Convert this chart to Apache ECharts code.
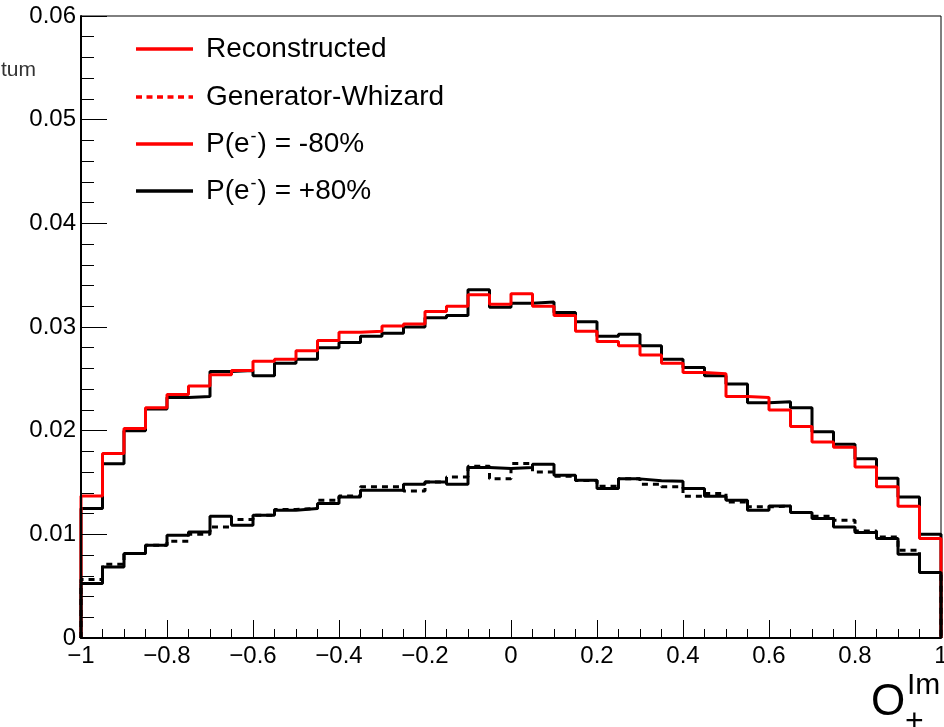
<!DOCTYPE html>
<html>
<head>
<meta charset="utf-8">
<script src="https://cdn.jsdelivr.net/npm/echarts@6/dist/echarts.min.js"></script>
<style>
  html, body { margin: 0; padding: 0; background: #fff; }
  #chart { width: 944px; height: 727px; }
</style>
</head>
<body>
<div id="chart"></div>
<script>
// Histogram binning: 40 bins of width 0.05 on [-1, 1]
const binLow = -1;
const binWidth = 0.05;

// P(e-) = -80%, reconstructed (red) and its companion (black)
const upperRed = [
  0.0137, 0.0178, 0.0202, 0.0222, 0.0235, 0.0243, 0.0254, 0.0258, 0.0267, 0.0269,
  0.0277, 0.0287, 0.0295, 0.0296, 0.0301, 0.0303, 0.0315, 0.0320, 0.0331, 0.0322,
  0.0332, 0.0320, 0.0311, 0.0296, 0.0286, 0.0282, 0.0273, 0.0265, 0.0256, 0.0255,
  0.0233, 0.0232, 0.0220, 0.0204, 0.0189, 0.0184, 0.0165, 0.0146, 0.0127, 0.0096
];
const upperBlack = [
  0.0125, 0.0168, 0.0200, 0.0221, 0.0232, 0.0233, 0.0257, 0.0258, 0.0253, 0.0265,
  0.0269, 0.0280, 0.0285, 0.0291, 0.0294, 0.0300, 0.0309, 0.0311, 0.0336, 0.0319,
  0.0323, 0.0324, 0.0314, 0.0305, 0.0291, 0.0293, 0.0282, 0.0269, 0.0261, 0.0253,
  0.0245, 0.0227, 0.0228, 0.0222, 0.0199, 0.0187, 0.0173, 0.0154, 0.0136, 0.0100
];
// P(e-) = +80%, reconstructed (solid) and generator (dashed)
const lowerSolid = [
  0.00525, 0.00685, 0.00815, 0.00895, 0.00991, 0.01023, 0.01175, 0.01088, 0.01184, 0.01233,
  0.01249, 0.01297, 0.01361, 0.01426, 0.01426, 0.01484, 0.01506, 0.01484, 0.01645, 0.01635,
  0.01645, 0.01677, 0.01570, 0.01522, 0.01442, 0.01535, 0.01516, 0.01513, 0.01442, 0.01368,
  0.01329, 0.01233, 0.01274, 0.01210, 0.01152, 0.01071, 0.01017, 0.00959, 0.00808, 0.00631
];
const lowerDashed = [
  0.00564, 0.00711, 0.00815, 0.00895, 0.00933, 0.01001, 0.01071, 0.01143, 0.01184, 0.01239,
  0.01250, 0.01329, 0.01370, 0.01458, 0.01458, 0.01419, 0.01506, 0.01554, 0.01657, 0.01535,
  0.01683, 0.01602, 0.01561, 0.01520, 0.01464, 0.01535, 0.01484, 0.01458, 0.01368, 0.01394,
  0.01313, 0.01265, 0.01274, 0.01210, 0.01175, 0.01136, 0.01033, 0.00975, 0.00847, 0.00631
];

const legendLabels = ['Reconstructed', 'Generator-Whizard', 'P(e-) = -80%', 'P(e-) = +80%'];

const FONT = '"Liberation Sans", Arial, Helvetica, sans-serif';

// Turn bin contents into an outline (step) path, closed down to zero at both ends
function histPoints(vals) {
  const pts = [[binLow, 0]];
  vals.forEach((v, i) => pts.push([binLow + i * binWidth, v]));
  const hi = binLow + vals.length * binWidth;
  pts.push([hi, vals[vals.length - 1]]);
  pts.push([hi, 0]);
  return pts;
}

function histSeries(name, vals, color, dashed) {
  return {
    name: name,
    type: 'line',
    step: 'end',
    data: histPoints(vals),
    showSymbol: false,
    symbol: 'none',
    clip: false,
    silent: true,
    lineStyle: { color: color, width: 3, type: dashed ? [6, 5] : 'solid' }
  };
}

function fmtX(v) {
  const r = Math.round(v * 10) / 10;
  if (r === 0) return '0';
  return r < 0 ? '\u2212' + String(-r) : String(r);
}

const chart = echarts.init(document.getElementById('chart'), null, { renderer: 'canvas' });

const legendRows = [49, 97, 144, 191];
const legendStyles = [
  { color: '#ff0000', dash: null },
  { color: '#ff0000', dash: [6, 4.5] },
  { color: '#ff0000', dash: null },
  { color: '#000000', dash: null }
];

function legendText(label) {
  const m = label.match(/^P\(e-\)(.*)$/);
  if (m) return '{a|P(e}{s|-}{a|)' + m[1] + '}';
  return '{a|' + label + '}';
}

const graphics = [];
legendLabels.forEach((label, i) => {
  const y = legendRows[i];
  graphics.push({
    type: 'line',
    silent: true,
    shape: { x1: 136, y1: y, x2: 193, y2: y },
    style: { stroke: legendStyles[i].color, lineWidth: 3.5, lineDash: legendStyles[i].dash }
  });
  graphics.push({
    type: 'text',
    silent: true,
    x: 206,
    y: y,
    style: {
      text: legendText(label),
      verticalAlign: 'middle',
      rich: {
        a: { fontFamily: FONT, fontSize: 28, lineHeight: 32, fill: '#000' },
        s: { fontFamily: FONT, fontSize: 18, lineHeight: 18, verticalAlign: 'top', fill: '#000', padding: [0, 1, 0, 1] }
      }
    }
  });
});

// Partial y-axis title at the left edge
graphics.push({
  type: 'text', silent: true, x: 36, y: 70,
  style: { text: 'tum', fontFamily: FONT, fontSize: 21, fill: '#333', align: 'right', verticalAlign: 'middle' }
});

// x-axis title O_+^Im
graphics.push({
  type: 'text', silent: true, x: 871, y: 703,
  style: { text: 'O', fontFamily: FONT, fontSize: 44, fill: '#000', verticalAlign: 'middle' }
});
graphics.push({
  type: 'text', silent: true, x: 907, y: 686,
  style: { text: 'Im', fontFamily: FONT, fontSize: 30, fill: '#000', verticalAlign: 'middle' }
});
graphics.push({
  type: 'text', silent: true, x: 905, y: 722,
  style: { text: '+', fontFamily: FONT, fontSize: 32, fill: '#000', verticalAlign: 'middle' }
});

chart.setOption({
  animation: false,
  backgroundColor: '#ffffff',
  grid: {
    left: 81, right: 3, top: 16, bottom: 89,
    outerBoundsMode: 'none',
    containLabel: false,
    show: true, borderColor: '#000', borderWidth: 1, backgroundColor: 'transparent'
  },
  xAxis: {
    type: 'value',
    min: -1, max: 1, interval: 0.2,
    z: 10,
    axisLine: { onZero: false, lineStyle: { color: '#000', width: 2 } },
    axisTick: { inside: true, length: 18, lineStyle: { color: '#000', width: 1 } },
    minorTick: { show: true, splitNumber: 4, length: 9, lineStyle: { color: '#000', width: 1 } },
    splitLine: { show: false },
    axisLabel: {
      margin: 6, color: '#000', fontFamily: FONT, fontSize: 24,
      showMinLabel: true, showMaxLabel: true, hideOverlap: false, formatter: fmtX
    }
  },
  yAxis: {
    type: 'value',
    min: 0, max: 0.06, interval: 0.01,
    z: 10,
    axisLine: { show: true, onZero: false, lineStyle: { color: '#000', width: 2 } },
    axisTick: { show: true, inside: true, length: 26, lineStyle: { color: '#000', width: 1 } },
    minorTick: { show: true, splitNumber: 5, length: 13, lineStyle: { color: '#000', width: 1 } },
    splitLine: { show: false },
    axisLabel: {
      margin: 5, color: '#000', fontFamily: FONT, fontSize: 24,
      showMinLabel: true, showMaxLabel: true,
      formatter: v => (v === 0 ? '0' : v.toFixed(2))
    }
  },
  series: [
    histSeries('P(e-) = -80% companion', upperBlack, '#000000', false),
    histSeries('P(e-) = -80% Reconstructed', upperRed, '#ff0000', false),
    histSeries('P(e-) = +80% Generator-Whizard', lowerDashed, '#000000', true),
    histSeries('P(e-) = +80% Reconstructed', lowerSolid, '#000000', false)
  ],
  graphic: graphics
});
</script>
</body>
</html>
